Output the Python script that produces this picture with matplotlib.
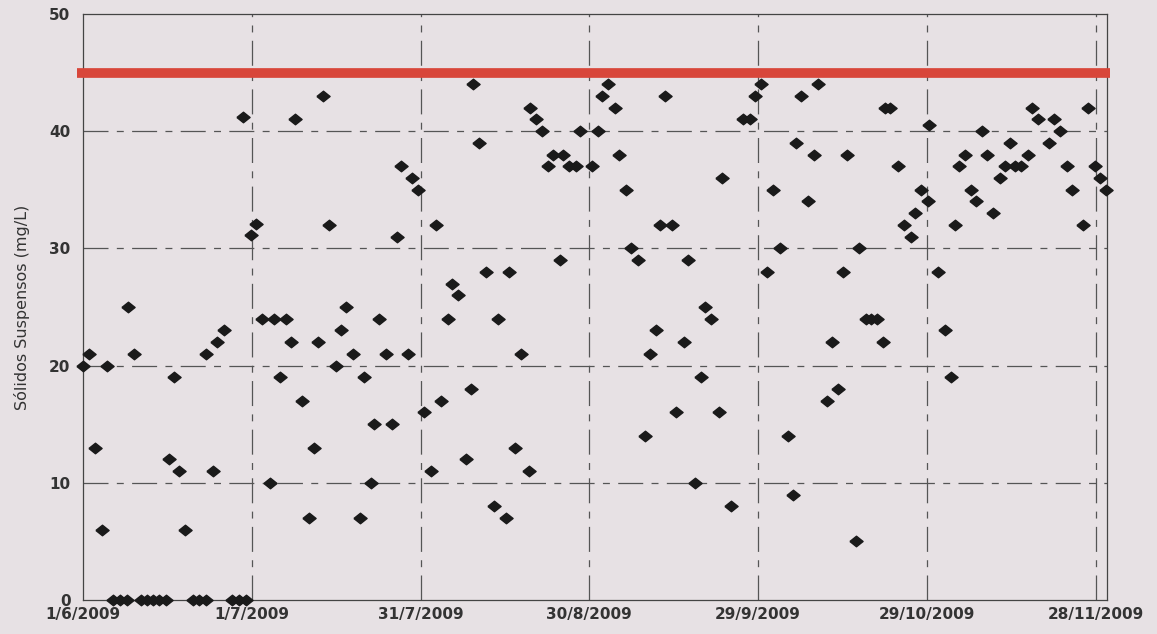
import datetime as dt
import matplotlib
matplotlib.use("Agg")
import matplotlib.pyplot as plt

# ---- data (days since 1/6/2009, value mg/L) ----
start = dt.datetime(2009, 6, 1)
days = [0, 1.1, 2.2, 3.3, 4.2, 5.3, 6.6, 7.8, 8.0, 9.1,
        10.3, 11.4, 12.5, 13.6, 14.7, 15.3, 16.1, 17.1, 18.2, 19.6,
        20.6, 21.9, 21.9, 23.1, 23.9, 25.0, 26.5, 27.7, 28.9, 28.5,
        29.8, 30.7, 31.9, 33.9, 36.0, 33.2, 35.1, 36.9, 37.6, 38.9,
        40.1, 41.1, 41.8, 42.7, 43.7, 44.9, 45.9, 46.7, 48.0, 49.3,
        49.9, 51.2, 51.8, 52.7, 53.9, 54.9, 55.8, 56.5, 57.8, 58.4,
        59.5, 60.6, 61.9, 62.7, 63.7, 64.8, 65.6, 66.7, 68.0, 68.9,
        69.4, 70.3, 71.6, 73.1, 73.7, 75.2, 75.7, 76.8, 77.9, 79.2,
        79.5, 80.5, 81.5, 82.6, 83.5, 84.7, 85.4, 86.4, 87.6, 88.4,
        90.5, 91.5, 92.3, 93.4, 94.5, 95.3, 96.5, 97.4, 98.6, 99.8,
        100.7, 101.8, 102.5, 103.4, 104.6, 105.4, 106.8, 107.6, 108.8, 109.9,
        110.6, 111.7, 113.0, 113.5, 115.1, 117.3, 118.5, 119.5, 120.5, 121.6,
        122.7, 123.8, 125.3, 126.2, 126.8, 127.6, 128.8, 129.9, 130.7, 132.3,
        133.1, 134.2, 135.1, 135.7, 137.4, 138.0, 139.1, 140.1, 141.1, 142.2,
        142.5, 143.5, 144.9, 145.9, 147.1, 147.9, 149.0, 150.1, 150.3, 151.9,
        153.2, 154.2, 154.9, 155.7, 156.7, 157.9, 158.8, 159.8, 160.7, 161.8,
        162.9, 163.8, 164.7, 165.6, 166.7, 167.9, 168.6, 169.8, 171.7, 172.6,
        173.6, 174.8, 175.7, 177.8, 178.6, 179.8, 180.8, 181.8]
values = [20, 21, 13, 6, 20, 0, 0, 0, 25, 21,
          0, 0, 0, 0, 0, 12, 19, 11, 6, 0,
          0, 0, 21, 11, 22, 23, 0, 0, 0, 41.2,
          31.1, 32.1, 24, 24, 24, 10, 19, 22, 41, 17,
          7, 13, 22, 43, 32, 20, 23, 25, 21, 7,
          19, 10, 15, 24, 21, 15, 31, 37, 21, 36,
          35, 16, 11, 32, 17, 24, 27, 26, 12, 18,
          44, 39, 28, 8, 24, 7, 28, 13, 21, 11,
          42, 41, 40, 37, 38, 29, 38, 37, 37, 40,
          37, 40, 43, 44, 42, 38, 35, 30, 29, 14,
          21, 23, 32, 43, 32, 16, 22, 29, 10, 19,
          25, 24, 16, 36, 8, 41, 41, 43, 44, 28,
          35, 30, 14, 9, 39, 43, 34, 38, 44, 17,
          22, 18, 28, 38, 5, 30, 24, 24, 24, 22,
          42, 42, 37, 32, 31, 33, 35, 34, 40.5, 28,
          23, 19, 32, 37, 38, 35, 34, 40, 38, 33,
          36, 37, 39, 37, 37, 38, 42, 41, 39, 41,
          40, 37, 35, 32, 42, 37, 36, 35]
limit_value = 45
tick_dates = ["1/6/2009", "1/7/2009", "31/7/2009", "30/8/2009",
              "29/9/2009", "29/10/2009", "28/11/2009"]
y_ticks = [0, 10, 20, 30, 40, 50]
y_label = "Sólidos Suspensos (mg/L)"

# ---- figure ----
bg = "#e7e1e4"
plt.rcParams["lines.scale_dashes"] = False
fig = plt.figure(figsize=(11.57, 6.34), dpi=100, facecolor=bg)
ax = fig.add_axes([0.0717, 0.0536, 0.8851, 0.9244], facecolor=bg)

xs = [start + dt.timedelta(days=d) for d in days]
tick_dt = [dt.datetime.strptime(t, "%d/%m/%Y") for t in tick_dates]
x0 = start
x1 = start + dt.timedelta(days=182)

ax.set_xlim(x0, x1)
ax.set_ylim(0, 50)

dash = (0, (18, 6, 5, 6))
for yv in y_ticks[1:-1]:
    ax.axhline(yv, color="#555555", lw=0.9, ls=dash, zorder=1)
for t in tick_dt[1:]:
    ax.axvline(t, color="#555555", lw=0.9, ls=dash, zorder=1)

ax.plot([x0 - dt.timedelta(days=1), x1 + dt.timedelta(days=0.6)],
        [limit_value, limit_value], color="#d8463a", lw=7,
        solid_capstyle="butt", clip_on=False, zorder=3)

diamond = [(-1, 0), (0, 0.8), (1, 0), (0, -0.8), (-1, 0)]
ax.plot(xs, values, ls="none", marker=diamond, ms=9.5, color="#1a1a1a",
        clip_on=False, zorder=4)

ax.set_xticks(tick_dt)
ax.set_xticklabels(tick_dates)
ax.set_yticks(y_ticks)
ax.tick_params(axis="both", length=0, labelsize=11, colors="#333333")
ax.tick_params(axis="x", pad=5)
ax.tick_params(axis="y", pad=9)
for lab in ax.get_xticklabels() + ax.get_yticklabels():
    lab.set_fontweight("bold")

for s in ax.spines.values():
    s.set_color("#444444")
    s.set_linewidth(0.9)

ax.set_ylabel(y_label, fontsize=11.5, color="#333333", labelpad=14)

fig.savefig("out.png", dpi=100, facecolor=bg)
